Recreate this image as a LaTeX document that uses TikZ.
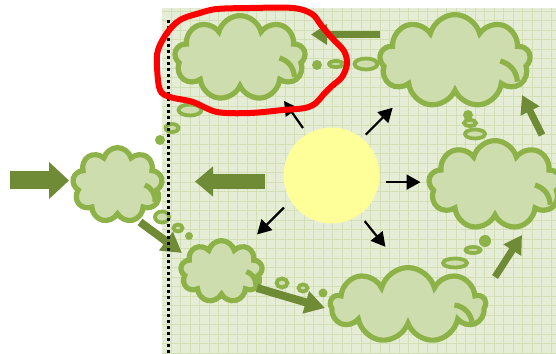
\documentclass[tikz,border=0pt]{standalone}
\usepackage{tikz}
\usetikzlibrary{arrows.meta,shapes.symbols,shapes.geometric}
\definecolor{panelbg}{HTML}{E6EDD6}
\definecolor{gridln}{HTML}{D3E0B6}
\definecolor{cloudfill}{HTML}{CEDDAE}
\definecolor{cloudln}{HTML}{8DB247}
\definecolor{olivearr}{HTML}{6F8B36}
\definecolor{sunfill}{HTML}{FFFF99}
\begin{document}
\begin{tikzpicture}[x=0.5pt,y=0.5pt,
  cl/.style={cloud,cloud puffs=9,cloud ignores aspect,draw=cloudln,fill=cloudfill,line width=2.6pt,inner sep=0pt},
  stub/.style={draw=cloudln,line width=2.6pt},
  ring/.style={ellipse,draw=cloudln,fill=cloudfill,line width=1.9pt,inner sep=0pt},
  dot/.style={circle,fill=cloudln,inner sep=0pt},
  blk/.style={line width=1.1pt,-{Triangle[length=7pt,width=7.5pt]}},
  fat/.style n args={3}{draw=olivearr,line width=#1,-{Triangle[width=#2,length=#3]}}]
\useasboundingbox (0,0) rectangle (556,353);
\fill[panelbg] (162,0) rectangle (556,345);
\draw[gridln,line width=0.4pt,step=4.75pt] (162,0) grid (556,345);
% thought bubbles
\foreach \n/\x/\y/\w/\h in {a1/336/289/7/3, a2/366/289/11.5/5.5,
  b1/190/243/11.5/5.5, b2/172/225/6.5/4, c1/162/136/7/5.5, c2/178/125/4.5/3.5,
  d1/282/70/5.5/4.5, d2/303/65/4.5/3.5, e1/455/90/12/4.5, e2/473/103/7.5/3,
  f1/470/230/6/3, f2/475/219/10/4.5}
  \node[ring,minimum width=\w pt,minimum height=\h pt] (\n) at (\x,\y) {};
\foreach \n/\x/\y/\s in {a0/317/288/5, b0/160/213/5, c0/189/117/4, d0/323/60/4.5,
  e0/485/112/6, f0/468/238/5}
  \node[dot,minimum size=\s pt] (\n) at (\x,\y) {};
% clouds
\node[cl,minimum width=65.4pt,minimum height=42.4pt] (tl) at (240,295) {};
\node[cl,minimum width=75.4pt,minimum height=46.4pt] (tr) at (455,292) {};
\node[cl,minimum width=44.9pt,minimum height=37.4pt] (lf) at (117.5,168) {};
\node[cl,minimum width=66.4pt,minimum height=44.4pt] (rt) at (495,168) {};
\node[cl,minimum width=40.9pt,minimum height=30.9pt] (bl) at (221.5,81.5) {};
\node[cl,minimum width=77.4pt,minimum height=37.4pt] (bt) at (408,48) {};
\foreach \c/\a/\b in {tl/68/45, tr/78/49, lf/47/40, rt/69/47, bl/43/33, bt/80/40}
  \draw[stub] ([shift={(0.58*\a,0*\b)}]\c.center) to[bend left=35] ([shift={(0.8*\a,-0.42*\b)}]\c.center);
\node[circle,fill=sunfill,minimum size=48pt,inner sep=0pt] (sun) at (331.5,177.5) {};
\foreach \a/\g/\d/\l in {121/7/125/33, 50/5/45/38, 353/6/0/35, 306/8/309/33, 214/9/225/38}
  \draw[blk] ([shift={(\a:\g)}]sun.\a) -- ++(\d:\l);
% big arrows
\coordinate (inL) at (10,172.5);   \coordinate (inLx) at (69,172.5);
\coordinate (sunL) at (265,171.5); \coordinate (sunLx) at (195,171.5);
\coordinate (trL) at (380,318.5);  \coordinate (trLx) at (311,318.5);
\coordinate (rtU) at (542,218);    \coordinate (rtUx) at (522,258);
\coordinate (btU) at (495,76);     \coordinate (btUx) at (522,118);
\coordinate (blR) at (257,65);     \coordinate (blRx) at (325,45);
\coordinate (lfD) at (140,131);    \coordinate (lfDx) at (182,100);
\draw[fat={9pt}{18pt}{10pt}] (inL) -- (inLx);
\draw[fat={7.5pt}{14.5pt}{9pt}] (sunL) -- (sunLx);
\draw[fat={3.5pt}{10pt}{8pt}] (trL) -- (trLx);
\draw[fat={3.5pt}{10pt}{9pt}] (rtU) -- (rtUx);
\draw[fat={3.5pt}{10pt}{9pt}] (btU) -- (btUx);
\draw[fat={4pt}{11pt}{10pt}] (blR) -- (blRx);
\draw[fat={4pt}{11pt}{10pt}] (lfD) -- (lfDx);
\draw[line width=1.5pt,dash pattern=on 1.5pt off 1.5pt] (168,0) -- (168,333);
% marked cloud
\draw[red,line width=3pt] plot[smooth cycle,tension=0.55] coordinates {
  (200,340) (217,344) (250,345) (293,345) (312,339) (321,328) (332,315)
  (344,302) (347,289) (342,276) (332,267) (323,258) (316,250) (305,245)
  (283,243) (250,240) (217,241) (193,251) (170,256) (160,263) (157,286)
  (158,303) (167,320) (180,333)};
\end{tikzpicture}
\end{document}
